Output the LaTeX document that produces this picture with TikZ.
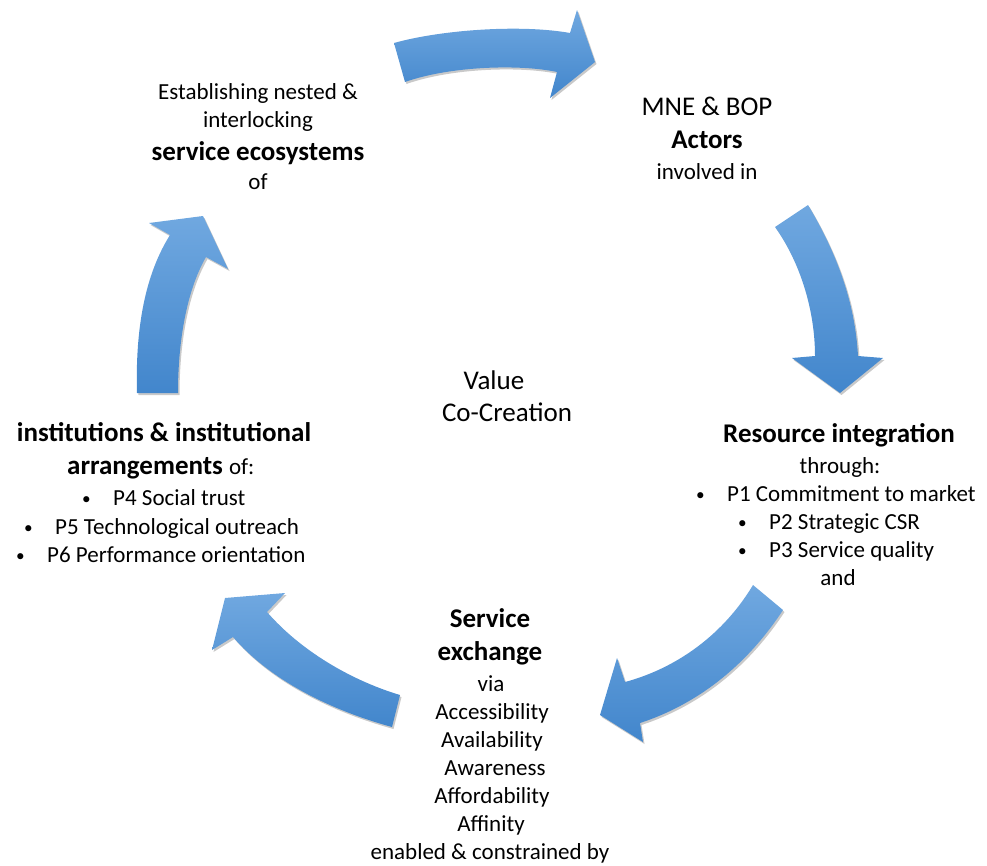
\documentclass[tikz,border=0pt]{standalone}
\usepackage{fontspec}
\setmainfont{Carlito}
\usetikzlibrary{shadows}

\definecolor{arrowtop}{RGB}{112,168,224}
\definecolor{arrowbot}{RGB}{66,134,204}

\tikzset{
  bigarrow/.style={top color=arrowtop, bottom color=arrowbot, draw=none,
    drop shadow={shadow xshift=1.5pt, shadow yshift=-2pt, opacity=0.3, fill=black!70}},
  txt/.style={font=\fontsize{23}{28}\selectfont, anchor=base, inner sep=0pt},
  bigtxt/.style={font=\fontsize{27}{32}\selectfont, anchor=base, inner sep=0pt},
  hdtxt/.style={font=\fontsize{27}{32}\selectfont\bfseries, anchor=base, inner sep=0pt},
  bultxt/.style={txt, anchor=base west}
}
\newcommand{\blt}{\makebox[33pt][l]{\hspace{2pt}\raisebox{1pt}{\scalebox{0.75}{\textbullet}}}}

\begin{document}
\begin{tikzpicture}[x=1pt,y=-1pt]
  \useasboundingbox (0,0) rectangle (987,865);

  %% arrow top
  \path[bigarrow] (394,43) .. controls (440,30) and (520,24) .. (570,33)
    -- (577,10) -- (595,62) -- (550,98) -- (557,72)
    .. controls (520,64) and (450,66) .. (405,82) -- cycle;
  %% arrow right
  \path[bigarrow] (775,227) -- (808,205) .. controls (835,250) and (855,300) .. (858,356)
    -- (883,358) -- (840,393) -- (792,358) -- (815,356)
    .. controls (815,310) and (800,262) .. (775,227) -- cycle;
  %% arrow bottom right
  \path[bigarrow] (753,585) -- (783,610) .. controls (745,668) and (695,705) .. (640,723)
    -- (643,742) -- (600,715) -- (617,658) -- (625,682)
    .. controls (670,670) and (720,640) .. (753,585) -- cycle;
  %% arrow bottom left
  \path[bigarrow] (400,695) -- (392,727) .. controls (330,710) and (270,680) .. (233,637)
    -- (212,650) -- (225,598) -- (285,593) -- (267,612)
    .. controls (300,650) and (350,680) .. (400,695) -- cycle;
  %% arrow left
  \path[bigarrow] (137,393) .. controls (135,320) and (148,270) .. (170,235)
    -- (149,223) -- (203,216) -- (228,269) -- (206,257)
    .. controls (187,290) and (178,340) .. (178,393) -- cycle;

  %% service ecosystems
  \node[txt] (eco1) at (258,99) {Establishing nested \&};
  \node[txt] (eco2) at (258,127) {interlocking};
  \node[hdtxt] (eco3) at (258,160) {service ecosystems};
  \node[txt] (eco4) at (258,189) {of};

  %% actors
  \node[bigtxt] (act1) at (707,115) {MNE \& BOP};
  \node[hdtxt] (act2) at (707,148) {Actors};
  \node[txt] (act3) at (707,179) {involved in};

  %% value co-creation
  \node[bigtxt] (val1) at (494,389) {Value};
  \node[bigtxt] (val2) at (507,421) {Co-Creation};

  %% institutions
  \node[hdtxt] (inst1) at (164,441) {institutions \& institutional};
  \node[txt, anchor=base west] (inst2) at (67,474) {\fontsize{27}{32}\selectfont\bfseries arrangements \mdseries\fontsize{23}{28}\selectfont of:};
  \node[bultxt] (p4) at (80,505) {\blt P4 Social trust};
  \node[bultxt] (p5) at (22,534) {\blt P5 Technological outreach};
  \node[bultxt] (p6) at (14,562) {\blt P6 Performance orientation};

  %% resource integration
  \node[hdtxt] (res1) at (839,442) {Resource integration};
  \node[txt] (res2) at (840,473) {through:};
  \node[bultxt] (p1) at (694,501) {\blt P1 Commitment to market};
  \node[bultxt] (p2) at (736,529) {\blt P2 Strategic CSR};
  \node[bultxt] (p3) at (736,557) {\blt P3 Service quality};
  \node[txt] (res3) at (838,585) {and};

  %% service exchange
  \node[hdtxt] (ex1) at (490,627) {Service};
  \node[hdtxt] (ex2) at (490,660) {exchange};
  \node[txt] (ex3) at (491,691) {via};
  \node[txt] (ex4) at (492,719) {Accessibility};
  \node[txt] (ex5) at (492,747) {Availability};
  \node[txt] (ex6) at (495,775) {Awareness};
  \node[txt] (ex7) at (492,803) {Affordability};
  \node[txt] (ex8) at (491,831) {Affinity};
  \node[txt] (ex9) at (490,859) {enabled \& constrained by};

\end{tikzpicture}
\end{document}
